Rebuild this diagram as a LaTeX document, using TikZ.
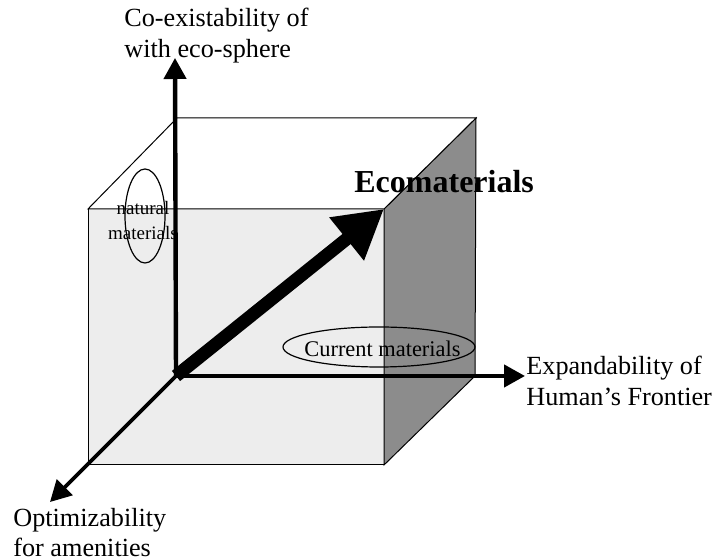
\documentclass[tikz,border=0pt]{standalone}
\usepackage{fontspec}
\setmainfont{Liberation Serif}
\usetikzlibrary{arrows.meta}

\begin{document}
\begin{tikzpicture}[
  x=0.5pt, y=-0.5pt,
  face/.style={draw, line width=0.5pt},
  ar/.style={-{Triangle[length=10.5pt,width=11pt]}, line width=2.2pt},
  big/.style={-{Triangle[length=24pt,width=26pt]}, line width=6.5pt},
  ring/.style={draw, line width=0.6pt},
  lbl/.style={align=left, inner sep=0pt, font=\fontsize{13.1}{15.2}\selectfont},
]
  \useasboundingbox (0,0) rectangle (713,560);

  % corners of the box
  \coordinate (ftl) at (88,209);
  \coordinate (ftr) at (384,209);
  \coordinate (fbr) at (384,465);
  \coordinate (fbl) at (88,465);
  \coordinate (btl) at (177,118);
  \coordinate (btr) at (476,118);
  \coordinate (bbr) at (475,376);
  \coordinate (o) at (176,376);

  % faces
  \filldraw[face, fill=black!7] (ftl) rectangle (fbr);
  \filldraw[face, fill=black!45] (ftr) -- (btr) -- (bbr) -- (fbr) -- cycle;
  \filldraw[face, fill=white] (ftl) -- (btl) -- (btr) -- (ftr) -- cycle;

  % groups of materials
  \draw[ring] (145,216) ellipse [x radius=10pt, y radius=23.5pt];
  \draw[ring] (379,347) ellipse [x radius=48pt, y radius=10pt];
  \node[inner sep=0pt, anchor=north, align=center,
        font=\fontsize{9.5}{12.5}\selectfont] (nat) at (143,201) {natural\\materials};
  \node[inner sep=0pt, anchor=base west,
        font=\fontsize{11.2}{13}\selectfont] (cur) at (304,357) {Current materials};

  % axes
  \coordinate (ytip) at (175,58);
  \coordinate (xtip) at (525,376);
  \coordinate (ztip) at (50,502);
  \draw[ar] (o) -- (ytip);
  \draw[ar] (o) -- (xtip);
  \draw[ar, line width=1.8pt] (o) -- (ztip);
  \draw[big] (o) -- (ftr);

  % labels
  \node[lbl, anchor=north west] (coex) at (124,8) {Co-existability of\\with eco-sphere};
  \node[lbl, anchor=north west] (expa) at (526,356) {Expandability of\\Human's Frontier};
  \node[lbl, anchor=north west] (opti) at (13,508) {Optimizability\\for amenities};
  \node[inner sep=0pt, anchor=base west,
        font=\fontsize{16}{19}\selectfont\bfseries] (eco) at (354,193) {Ecomaterials};
\end{tikzpicture}
\end{document}
